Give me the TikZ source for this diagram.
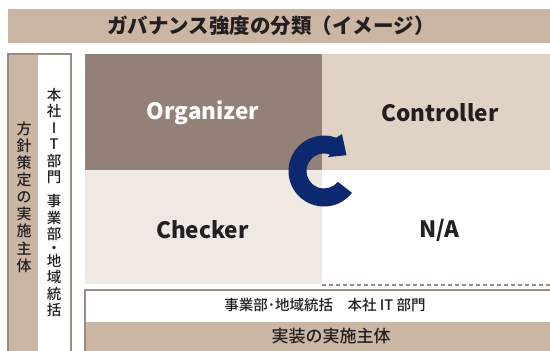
\documentclass[tikz,border=0pt]{standalone}
\usepackage{fontspec}
\setmainfont{Noto Sans CJK JP}
\newfontfamily\jpm{Noto Sans CJK JP Medium}
\definecolor{bannercol}{HTML}{CBB5A3}
\definecolor{bordercol}{HTML}{9C8B82}
\definecolor{orgcol}{HTML}{938076}
\definecolor{ctrlcol}{HTML}{E0D3C6}
\definecolor{chkcol}{HTML}{EFE8E3}
\definecolor{navycol}{HTML}{0C286E}
\definecolor{inkcol}{HTML}{231F20}
\begin{document}
\begin{tikzpicture}[x=1pt,y=1pt,
  cellbox/.style={rectangle,inner sep=0pt,outer sep=0pt,anchor=north west,draw=none},
  biglabel/.style={inner sep=0pt,font=\fontsize{22.5}{22.5}\selectfont\bfseries,text=inkcol},
  vtext/.style={inner sep=0pt,align=center,text=inkcol},
  btext/.style={inner sep=0pt,text=inkcol},
  frameline/.style={draw=bordercol,line width=2pt},
  dashline/.style={draw=bordercol,line width=1.2pt,dash pattern=on 4pt off 3pt}]
\useasboundingbox (0,0) rectangle (550,351);
\clip (0,0) rectangle (550,351);
\fill[white] (0,0) rectangle (550,351);
% title banner
\node[cellbox,fill=bannercol,minimum width=560pt,minimum height=33.4pt] (banner) at (7.5,341.7) {};
\node[btext,font=\fontsize{20.5}{20.5}\selectfont\bfseries] (title) at (271,325) {ガバナンス強度の分類（イメージ）};
% left frame
\node[cellbox,fill=bannercol,minimum width=29.6pt,minimum height=310pt] (lefttan) at (8.7,296.7) {};
\node[cellbox,fill=white,minimum width=31.4pt,minimum height=310pt] (leftwhite) at (38.3,296.7) {};
\draw[frameline] (7.7,-5) |- (70.7,296.7) -- (70.7,-5);
\node[vtext,font=\jpm\fontsize{15}{17.1}\selectfont] (policy) at (24,154) {方\\針\\策\\定\\の\\実\\施\\主\\体};
\node[vtext,font=\jpm\fontsize{14.5}{16.4}\selectfont,anchor=north] (policywho) at (54,263) {本\\社\\I\\T\\部\\門\\[8pt]事\\業\\部\\[-3pt]・\\[-3pt]地\\域\\統\\括};
% grid
\node[cellbox,fill=orgcol,minimum width=237pt,minimum height=116pt] (org) at (85,297) {};
\node[cellbox,fill=ctrlcol,minimum width=240pt,minimum height=116pt] (ctrl) at (322,297) {};
\node[cellbox,fill=chkcol,minimum width=237pt,minimum height=114pt] (chk) at (85,181) {};
\node[cellbox,minimum width=240pt,minimum height=115pt] (na) at (322,181) {};
\draw[dashline] (na.south west) -- (na.south east);
\node[biglabel,text=white] (orglab) at (203,238) {Organizer};
\node[biglabel] (ctrllab) at (440,238) {Controller};
\node[biglabel] (chklab) at (202.5,121) {Checker};
\node[biglabel] (nalab) at (439.5,121) {N/A};
% bottom box
\node[cellbox,fill=white,minimum width=480pt,minimum height=31pt] (implwho) at (85.7,60) {};
\node[cellbox,fill=bannercol,minimum width=480pt,minimum height=35pt] (impl) at (85.7,29) {};
\draw[frameline] (84.7,-5) |- (560,60.5);
\node[btext,font=\jpm\fontsize{14.5}{14.5}\selectfont] (implwholab) at (325,46) {事業部･地域統括　本社 IT 部門};
\node[btext,font=\jpm\fontsize{17}{17}\selectfont] (impllab) at (331,14.5) {実装の実施主体};
% cycle arrow
\begin{scope}[shift={(324,180)}]
\fill[navycol] (-38:35.5pt) arc[start angle=-38,end angle=-290,radius=35.5pt]
  -- (64:41pt) -- (35:27.5pt) -- (74:14.5pt) -- (70:17.5pt)
  arc[start angle=70,end angle=322,radius=17.5pt] -- cycle;
\end{scope}
\end{tikzpicture}
\end{document}
